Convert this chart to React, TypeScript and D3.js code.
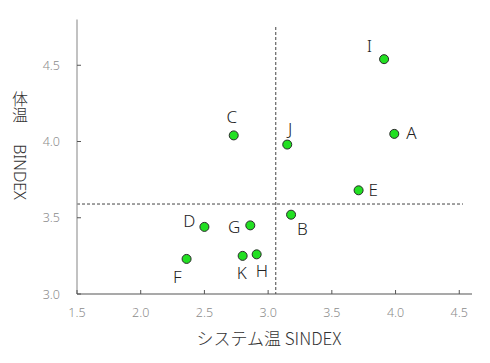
import React from "react";
import * as d3 from "d3";

const names = ["A", "B", "C", "D", "E", "F", "G", "H", "I", "J", "K"];
const sindex = [3.99, 3.18, 2.73, 2.5, 3.71, 2.36, 2.86, 2.91, 3.91, 3.15, 2.8];
const bindex = [4.05, 3.52, 4.04, 3.44, 3.68, 3.23, 3.45, 3.26, 4.54, 3.98, 3.25];
const xTicks = [1.5, 2.0, 2.5, 3.0, 3.5, 4.0, 4.5];
const yTicks = [3.0, 3.5, 4.0, 4.5];
const xMean = 3.06;
const yMean = 3.59;

const W = 490, H = 363;
const cjk = "'Noto Sans CJK JP', 'Noto Sans', sans-serif";
const latin = "'Noto Sans', 'Noto Sans CJK JP', sans-serif";

// [dx, dy, anchor] offsets of each point label
const offsets: Record<string, [number, number, string]> = {
  A: [12, 5, "start"],
  B: [6, 20, "start"],
  C: [-2, -12, "middle"],
  D: [-9, 0, "end"],
  E: [10, 6, "start"],
  F: [-5, 24, "end"],
  G: [-10, 8, "end"],
  H: [-1, 23, "start"],
  I: [-12, -7, "end"],
  J: [3, -10, "middle"],
  K: [-1, 23, "middle"],
};

export default function App() {
  const x = d3.scaleLinear().domain([1.5, 4.6]).range([77, 472]);
  const y = d3.scaleLinear().domain([3.0, 4.8]).range([294, 19.5]);

  return (
    <svg width={W} height={H} style={{ position: "absolute", left: 0, top: 0 }}>
      <rect width={W} height={H} fill="#fff" />
      {/* reference lines */}
      <line x1={x(xMean)} x2={x(xMean)} y1={27} y2={y(3.0)} stroke="#444" strokeWidth={1} strokeDasharray="3,2" />
      <line x1={x(1.5)} x2={463} y1={y(yMean)} y2={y(yMean)} stroke="#444" strokeWidth={1} strokeDasharray="3,2" />
      {/* axes */}
      <line x1={x(1.5)} x2={x(1.5)} y1={y(4.8)} y2={y(3.0)} stroke="#999" strokeWidth={1.2} />
      <line x1={x(1.5)} x2={x(4.6)} y1={y(3.0)} y2={y(3.0)} stroke="#555" strokeWidth={1.2} />
      {xTicks.map((t) => (
        <g key={"x" + t}>
          <line x1={x(t)} x2={x(t)} y1={y(3.0)} y2={y(3.0) - 4} stroke="#555" />
          <text x={x(t)} y={316.5} textAnchor="middle" fontSize={12.5} fill="#8c8c8c" fontFamily={latin} fontWeight={300}>
            {t.toFixed(1)}
          </text>
        </g>
      ))}
      {yTicks.map((t) => (
        <g key={"y" + t}>
          <line x1={x(1.5)} x2={x(1.5) + 4} y1={y(t)} y2={y(t)} stroke="#555" />
          <text x={60} y={y(t) + 4.5} textAnchor="end" fontSize={12.5} fill="#8c8c8c" fontFamily={latin} fontWeight={300}>
            {t.toFixed(1)}
          </text>
        </g>
      ))}
      {/* points */}
      {names.map((n, i) => {
        const px = x(sindex[i]);
        const py = y(bindex[i]);
        const [dx, dy, anchor] = offsets[n];
        return (
          <g key={n}>
            <circle cx={px} cy={py} r={4.5} fill="#22e022" stroke="#2a2a2a" strokeWidth={1} />
            <text x={px + dx} y={py + dy} textAnchor={anchor} fontSize={17} fill="#222" fontFamily={latin} fontWeight={300}>
              {n}
            </text>
          </g>
        );
      })}
      {/* axis titles */}
      <text x={269} y={345} textAnchor="middle" fontSize={17} fill="#333" fontFamily={cjk} fontWeight={300}>
        システム温 SINDEX
      </text>
      <g fontSize={16} fill="#333" fontFamily={cjk} fontWeight={300}>
        <text
          x={20}
          y={91}
          style={{ writingMode: "vertical-rl", textOrientation: "upright" } as React.CSSProperties}
        >
          体温
        </text>
        <text x={0} y={0} transform="translate(14,172) rotate(90)" textAnchor="middle" fontFamily={latin}>
          BINDEX
        </text>
      </g>
    </svg>
  );
}
